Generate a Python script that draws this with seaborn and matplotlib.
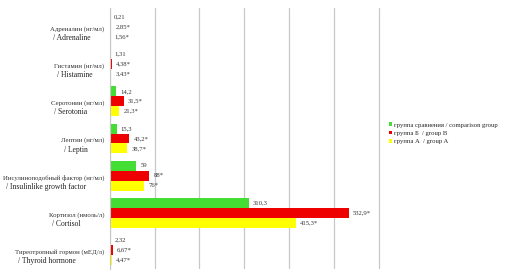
import pandas as pd
import matplotlib.pyplot as plt
import seaborn as sns

# categories, top to bottom
labels_ru = ['Адреналин (нг/мл)', 'Гистамин (нг/мл)', 'Серотонин (нг/мл)', 'Лептин (нг/мл)',
             'Инсулиноподобный фактор (нг/мл)', 'Кортизол (нмоль/л)', 'Тиреотропный гормон (мЕД/л)']
labels_en = ['/ Adrenaline', '/ Histamine', '/ Serotonia', '/ Leptin',
             '/ Insulinlike growth factor', '/ Cortisol', '/ Thyroid hormone']

groups = ['группа сравнения / comparison group', 'группа Б  / group B', 'группа А  / group A']
comparison = [0.21, 1.31, 14.2, 15.3, 59, 310.3, 2.32]
group_b = [2.85, 4.38, 31.5, 43.2, 88, 532.9, 6.67]
group_a = [1.56, 3.43, 21.3, 38.7, 76, 415.3, 4.47]
text_cmp = ['0,21', '1,31', '14,2', '15,3', '59', '310,3', '2,32']
text_b = ['2,85*', '4,38*', '31,5*', '43,2*', '88*', '532,9*', '6,67*']
text_a = ['1,56*', '3,43*', '21,3*', '38,7*', '76*', '415,3*', '4,47*']

colors = ['#44dd33', '#ee0000', '#ffff00']

rows = []
for vals, g in [(comparison, groups[0]), (group_b, groups[1]), (group_a, groups[2])]:
    for cat, v in zip(labels_en, vals):
        rows.append({'cat': cat, 'value': v, 'group': g})
df = pd.DataFrame(rows)

sns.set_style('white')
plt.rcParams['font.family'] = ['Liberation Serif', 'DejaVu Serif']

fig = plt.figure(figsize=(5.11, 2.77), dpi=100)
ax = fig.add_axes([0.215, 0.03, 0.535, 0.94])

sns.barplot(data=df, y='cat', x='value', hue='group', palette=colors, orient='h',
            width=0.8, ax=ax, edgecolor='none', saturation=1)

ax.set_xlim(0, 610)
ax.set_xticks([0, 100, 200, 300, 400, 500, 600])
ax.set_xticklabels([])
ax.grid(axis='x', color='#c8c8c8', linewidth=0.9)
ax.set_axisbelow(True)
for s in ['top', 'right', 'bottom']:
    ax.spines[s].set_visible(False)
ax.spines['left'].set_color('#c8c8c8')
ax.tick_params(length=0)
ax.set_xlabel('')
ax.set_ylabel('')
ax.set_yticklabels([])

# value labels
for cont, txts in zip(ax.containers, [text_cmp, text_b, text_a]):
    ax.bar_label(cont, labels=txts, padding=3, fontsize=4.8, color='#333333')

# two-line category labels
fig.canvas.draw()
renderer = fig.canvas.get_renderer()
for i, (ru, en) in enumerate(zip(labels_ru, labels_en)):
    t = ax.text(-0.02, i + 0.05, ru, transform=ax.get_yaxis_transform(), ha='right', va='center',
                fontsize=4.9, color='#333333')
    bb = t.get_window_extent(renderer).transformed(ax.transAxes.inverted())
    ax.text(bb.x0 + 0.01, i + 0.3, en, transform=ax.get_yaxis_transform(), ha='left', va='center',
            fontsize=5.5, color='#222222')

leg = ax.legend(loc='center left', bbox_to_anchor=(1.005, 0.52), frameon=False, fontsize=4.8,
                handlelength=0.5, handleheight=0.5, handletextpad=0.3, labelspacing=0.45,
                borderaxespad=0.2)

fig.savefig('out.png', dpi=100)
